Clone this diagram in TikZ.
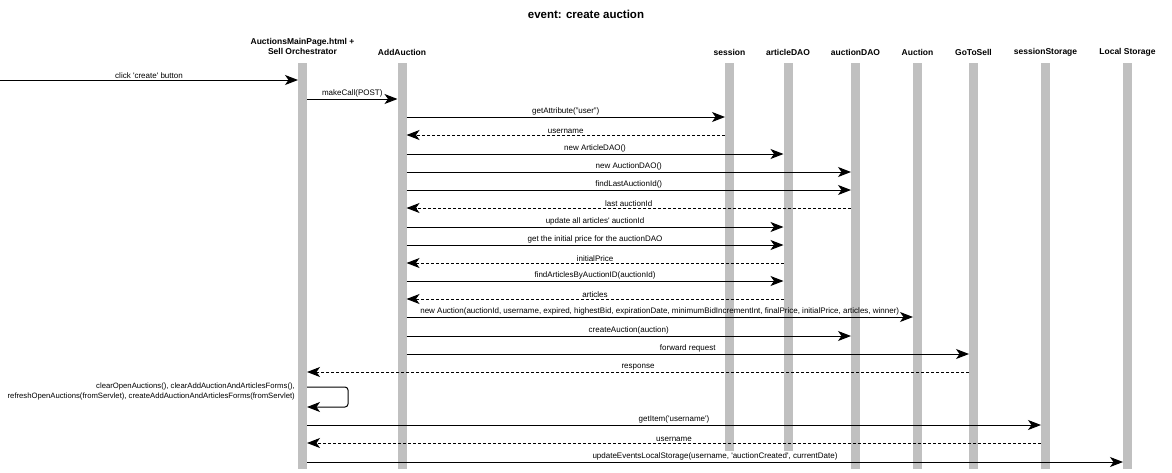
\documentclass[tikz,border=0pt]{standalone}
\usepackage{fontspec}
\setmainfont{Liberation Sans}
\usetikzlibrary{arrows.meta}
\definecolor{barg}{RGB}{192,192,192}
\newcommand\sq{\textquotesingle}
\begin{document}
\begin{tikzpicture}[x=1pt,y=-1pt,
 bar/.style={fill=barg, draw=none, minimum width=9pt, inner sep=0pt, outer sep=0pt, anchor=north, minimum height=406pt},
 shortbar/.style={bar, minimum height=388pt},
 msg/.style={line width=1pt, -{Stealth[length=13pt,width=10pt,inset=3.5pt]}},
 ret/.style={msg, dash pattern=on 3pt off 2pt},
 lbl/.style={above, inner sep=1pt, font=\fontsize{8}{9}\selectfont},
 hdr/.style={font=\bfseries\fontsize{8.5}{10.5}\selectfont, align=center, inner sep=0pt},
]
\useasboundingbox (0,0) rectangle (1172,472);
\node[font=\bfseries\fontsize{11.5}{13}\selectfont] (title) at (586,14) {event: create auction};

% lifelines
\node[bar] (amp) at (302.5,63) {};
\node[bar] (add) at (402,63) {};
\node[shortbar] (ses) at (729.5,63) {};
\node[shortbar] (art) at (788,63) {};
\node[bar] (adao) at (855.5,63) {};
\node[bar] (auc) at (917.5,63) {};
\node[bar] (gts) at (973.5,63) {};
\node[bar] (sst) at (1045.5,63) {};
\node[bar] (lst) at (1127.5,63) {};

% headers
\node[hdr] (hamp) at (302.5,46.5) {AuctionsMainPage.html +\\Sell Orchestrator};
\node[hdr] (hadd) at (402,52) {AddAuction};
\node[hdr] (hses) at (729.5,52) {session};
\node[hdr] (hart) at (788,52) {articleDAO};
\node[hdr] (hadao) at (855.5,52) {auctionDAO};
\node[hdr] (hauc) at (917.5,52) {Auction};
\node[hdr] (hgts) at (973.5,52) {GoToSell};
\node[hdr] (hsst) at (1045.5,52) {sessionStorage};
\node[hdr] (hlst) at (1127.5,52) {Local Storage};

\newcommand\callmsg[4]{\draw[msg] (#1.east |- 0,#3) -- node[lbl]{#4} (#2.west |- 0,#3);}
\newcommand\retmsg[4]{\draw[ret] (#1.west |- 0,#3) -- node[lbl]{#4} (#2.east |- 0,#3);}

\coordinate (user) at (0,80);
\draw[msg] (user) -- node[lbl]{click \sq create\sq\ button} (amp.west |- 0,80);
\callmsg{amp}{add}{99}{makeCall(POST)}
\callmsg{add}{ses}{117}{getAttribute("user")}
\retmsg{ses}{add}{135}{username}
\callmsg{add}{art}{154}{new ArticleDAO()}
\callmsg{add}{adao}{172}{new AuctionDAO()}
\callmsg{add}{adao}{190}{findLastAuctionId()}
\retmsg{adao}{add}{208}{last auctionId}
\callmsg{add}{art}{227}{update all articles\sq\ auctionId}
\callmsg{add}{art}{245}{get the initial price for the auctionDAO}
\retmsg{art}{add}{263}{initialPrice}
\callmsg{add}{art}{281}{findArticlesByAuctionID(auctionId)}
\retmsg{art}{add}{299}{articles}
\callmsg{add}{auc}{317}{new Auction(auctionId, username, expired, highestBid, expirationDate, minimumBidIncrementInt, finalPrice, initialPrice, articles, winner)}
\callmsg{add}{adao}{336}{createAuction(auction)}
\callmsg{add}{gts}{354}{forward request}
\retmsg{gts}{amp}{372}{response}

\draw[msg, rounded corners=3pt] (amp.east |- 0,387) -- ++(41,0) -- ++(0,20) -- (amp.east |- 0,407);
\node[font=\fontsize{7.7}{10}\selectfont, align=right, anchor=east, inner sep=0pt] (selflbl) at (295,392)
 {clearOpenAuctions(), clearAddAuctionAndArticlesForms(),\\refreshOpenAuctions(fromServlet), createAddAuctionAndArticlesForms(fromServlet)};

\callmsg{amp}{sst}{425}{getItem(\sq username\sq)}
\retmsg{sst}{amp}{443}{username}
\callmsg{amp}{lst}{462}{updateEventsLocalStorage(username, \sq auctionCreated\sq, currentDate)}
\end{tikzpicture}
\end{document}
